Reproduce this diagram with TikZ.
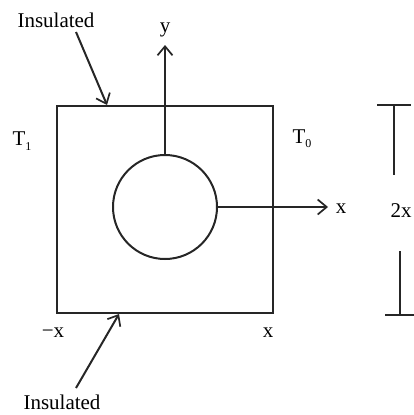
\documentclass[tikz,border=0pt]{standalone}
\usepackage{fontspec}
\setmainfont{Liberation Serif}
\usetikzlibrary{arrows.meta}
\begin{document}
\begin{tikzpicture}[x=1pt,y=-1pt,
  lbl/.style={inner sep=0pt,font=\fontsize{21}{25}\selectfont},
  ln/.style={line width=2pt,draw=black!85},
  arr/.style={ln,-{Straight Barb[length=9pt,width=15pt,line width=1.7pt]}}]
\useasboundingbox (0,0) rectangle (414,415);
% plate
\node[ln,draw,rectangle,minimum width=216pt,minimum height=207pt,inner sep=0pt] (sq) at (165,209.5) {};
\node[ln,draw,circle,minimum size=104pt,inner sep=0pt] (c) at (165,207) {};
% axes
\coordinate (ytip) at (165,45);
\coordinate (xtip) at (328,207);
\draw[arr] (c.north) -- (ytip);
\draw[arr] (c.east) -- (xtip);
\node[lbl] (ylab) at (165,30) {y};
\node[lbl] (xlab) at (341,209) {x};
% labels
\node[lbl] (t1) at (22,141) {T\raisebox{-0.45ex}{\fontsize{12}{12}\selectfont 1}};
\node[lbl] (t0) at (302,139) {T\raisebox{-0.45ex}{\fontsize{12}{12}\selectfont 0}};
\node[lbl] (mx) at (53,333) {−x};
\node[lbl] (px) at (268,333) {x};
% insulated
\node[lbl] (ins1) at (56,20) {Insulated};
\node[lbl] (ins2) at (62,402) {Insulated};
\coordinate (a1s) at (76,32);
\coordinate (a1e) at (107,105);
\coordinate (a2s) at (76,388);
\coordinate (a2e) at (119,314);
\draw[arr] (a1s) -- (a1e);
\draw[arr] (a2s) -- (a2e);
% dimension
\node[lbl] (dim) at (401,211) {2x};
\coordinate (d1a) at (377,105);
\coordinate (d1b) at (411,105);
\coordinate (d1m) at (394,105);
\coordinate (d1e) at (394,175);
\coordinate (d2a) at (385,315);
\coordinate (d2b) at (414,315);
\coordinate (d2m) at (400,315);
\coordinate (d2e) at (400,251);
\draw[ln] (d1a) -- (d1b);
\draw[ln] (d1m) -- (d1e);
\draw[ln] (d2a) -- (d2b);
\draw[ln] (d2m) -- (d2e);
\end{tikzpicture}
\end{document}
